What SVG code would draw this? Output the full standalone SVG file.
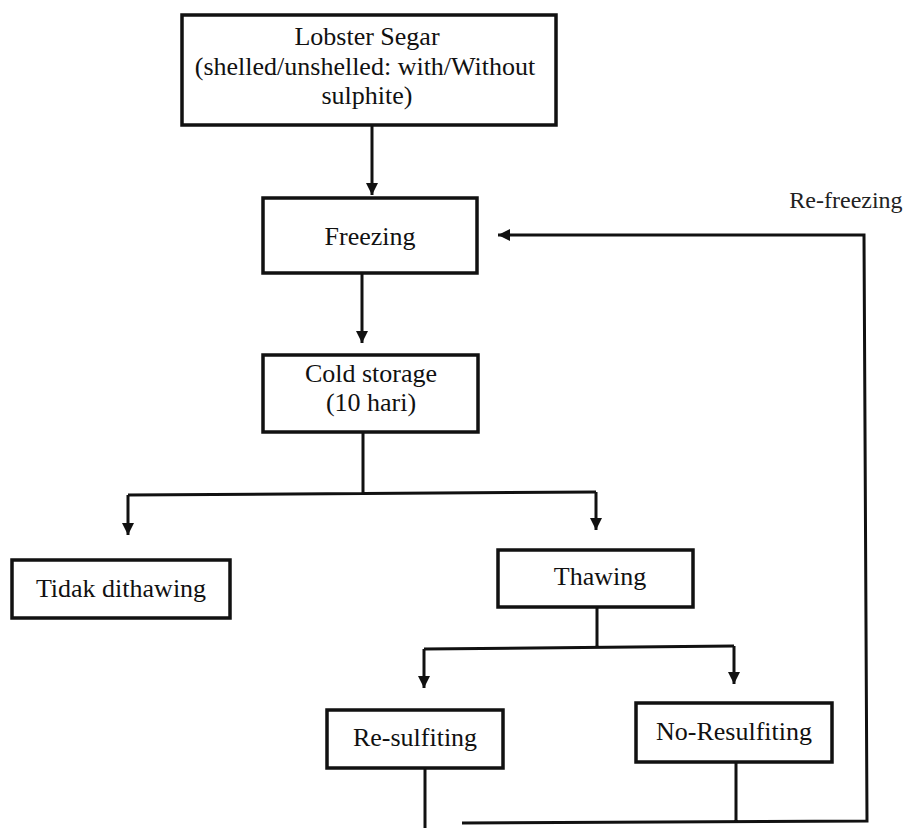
<svg xmlns="http://www.w3.org/2000/svg" width="909" height="828" viewBox="0 0 909 828">
<style>
.box{fill:#fff;stroke:#111;stroke-width:3.5}
.ln{fill:none;stroke:#111;stroke-width:3}
text{font-family:"Liberation Serif","Times New Roman",serif;font-size:26px;fill:#111;text-anchor:middle}
.lbl{font-size:24px;fill:#222}
</style>
<defs>
<marker id="ah" viewBox="0 0 10 10" refX="10" refY="5" markerWidth="4" markerHeight="4" orient="auto" markerUnits="strokeWidth">
<path d="M0,0 L10,5 L0,10 Z" fill="#111"/>
</marker>
</defs>
<rect width="909" height="828" fill="#fff"/>
<g id="connectors">
<path class="ln" d="M372,125 V195" marker-end="url(#ah)"/>
<path class="ln" d="M362,273 V343" marker-end="url(#ah)"/>
<path class="ln" d="M363,432 V494 M128,495 L596,492"/>
<path class="ln" d="M128,495 V535" marker-end="url(#ah)"/>
<path class="ln" d="M596,492 V530" marker-end="url(#ah)"/>
<path class="ln" d="M597,607 V648 M424,649 L734,646"/>
<path class="ln" d="M424,649 V688" marker-end="url(#ah)"/>
<path class="ln" d="M734,646 V684" marker-end="url(#ah)"/>
<path class="ln" d="M425,768 V828"/>
<path class="ln" d="M736,762 V822 M462,823 L867,821 L864,235 H498" marker-end="url(#ah)"/>
</g>
<text class="lbl" x="846" y="208">Re-freezing</text>
<g id="lobster">
<rect class="box" x="182" y="15" width="374" height="110"/>
<text x="367" y="45">Lobster Segar</text>
<text x="365" y="75">(shelled/unshelled: with/Without</text>
<text x="367" y="104">sulphite)</text>
</g>
<g id="freezing">
<rect class="box" x="263" y="198" width="214" height="75"/>
<text x="370" y="245">Freezing</text>
</g>
<g id="cold">
<rect class="box" x="263" y="355" width="215" height="77"/>
<text x="371" y="382">Cold storage</text>
<text x="371" y="411">(10 hari)</text>
</g>
<g id="tidak">
<rect class="box" x="12" y="560" width="218" height="58"/>
<text x="121" y="597">Tidak dithawing</text>
</g>
<g id="thawing">
<rect class="box" x="498" y="550" width="195" height="57"/>
<text x="600" y="585">Thawing</text>
</g>
<g id="resulfiting">
<rect class="box" x="327" y="710" width="176" height="58"/>
<text x="415" y="746">Re-sulfiting</text>
</g>
<g id="noresulfiting">
<rect class="box" x="636" y="703" width="196" height="59"/>
<text x="734" y="740">No-Resulfiting</text>
</g>
</svg>
